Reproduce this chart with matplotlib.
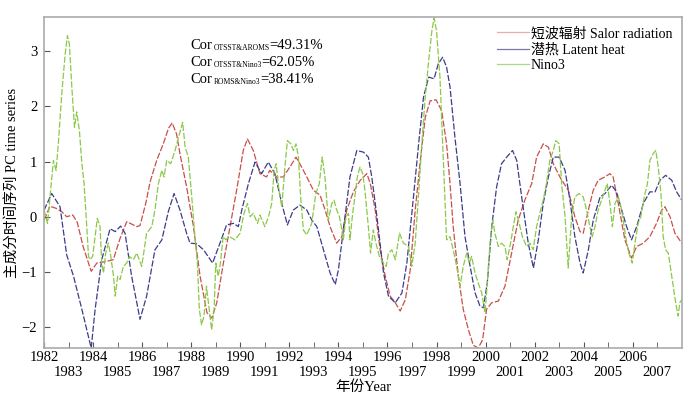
import numpy as np
import matplotlib
matplotlib.use('Agg')
from matplotlib import pyplot as plt

plt.rcParams['font.family'] = ['Liberation Serif', 'Noto Sans CJK SC']
plt.rcParams['axes.unicode_minus'] = True

# shortwave radiation PC (red)
red_t = [1982.0, 1982.24, 1982.5, 1982.72, 1982.92, 1983.17, 1983.35, 1983.59, 1983.92, 1984.15,
         1984.55, 1984.82, 1985.1, 1985.37, 1985.78, 1985.91, 1986.15, 1986.32, 1986.59, 1986.86,
         1987.07, 1987.22, 1987.4, 1987.54, 1987.81, 1988.09, 1988.36, 1988.64, 1988.84, 1989.04,
         1989.31, 1989.58, 1989.85, 1990.12, 1990.29, 1990.53, 1990.8, 1991.07, 1991.2, 1991.48,
         1991.75, 1992.02, 1992.27, 1992.5, 1992.71, 1992.98, 1993.25, 1993.46, 1993.66, 1993.93,
         1994.14, 1994.34, 1994.61, 1994.89, 1995.16, 1995.3, 1995.5, 1995.7, 1995.91, 1996.11,
         1996.32, 1996.52, 1996.73, 1996.93, 1997.13, 1997.34, 1997.54, 1997.74, 1997.98, 1998.21,
         1998.41, 1998.55, 1998.68, 1998.89, 1999.09, 1999.3, 1999.5, 1999.7, 1999.88, 2000.04,
         2000.25, 2000.52, 2000.79, 2001.06, 2001.33, 2001.6, 2001.88, 2002.08, 2002.35, 2002.56,
         2002.76, 2003.03, 2003.37, 2003.64, 2003.85, 2003.98, 2004.19, 2004.39, 2004.59, 2004.86,
         2005.07, 2005.2, 2005.41, 2005.68, 2005.95, 2006.16, 2006.43, 2006.7, 2006.97, 2007.18,
         2007.31, 2007.52, 2007.72, 2008.0]
red_v = [-0.06, 0.19, 0.15, 0.09, 0.0, 0.03, -0.1, -0.54, -0.99, -0.84,
         -0.81, -0.78, -0.39, -0.09, -0.18, -0.16, 0.25, 0.63, 1.02, 1.32,
         1.6, 1.70, 1.5, 1.14, 0.54, -0.18, -1.08, -1.74, -1.84, -1.56,
         -0.84, -0.18, 0.48, 1.2, 1.41, 1.2, 0.78, 0.72, 0.84, 0.72,
         0.72, 0.9, 1.08, 0.9, 0.72, 0.48, 0.39, 0.12, -0.18, -0.48,
         -0.36, 0.12, 0.45, 0.66, 0.78, 0.6, 0.12, -0.6, -1.08, -1.44,
         -1.56, -1.71, -1.5, -0.96, 0.12, 1.02, 1.8, 2.1, 2.12, 1.92,
         1.32, 0.6, -0.18, -1.08, -1.68, -2.05, -2.33, -2.38, -2.23, -1.68,
         -1.56, -1.53, -1.26, -0.66, -0.06, 0.3, 0.6, 1.08, 1.32, 1.26,
         0.96, 0.72, 0.48, 0.0, -0.27, -0.3, 0.12, 0.48, 0.66, 0.72,
         0.78, 0.72, 0.24, -0.42, -0.75, -0.54, -0.48, -0.36, -0.12, 0.12,
         0.18, 0.0, -0.3, -0.48]

# latent heat PC (blue)
blue_t = [1982.0, 1982.31, 1982.65, 1982.92, 1983.2, 1983.54, 1983.92, 1984.08, 1984.35, 1984.69,
          1984.9, 1985.12, 1985.3, 1985.57, 1985.91, 1986.18, 1986.52, 1986.8, 1987.07, 1987.3,
          1987.54, 1987.81, 1987.95, 1988.22, 1988.5, 1988.87, 1989.17, 1989.44, 1989.72, 1989.92,
          1990.06, 1990.33, 1990.6, 1990.87, 1991.14, 1991.41, 1991.69, 1991.92, 1992.16, 1992.43,
          1992.71, 1992.91, 1993.12, 1993.39, 1993.66, 1993.87, 1994.0, 1994.2, 1994.47, 1994.75,
          1995.02, 1995.22, 1995.36, 1995.57, 1995.84, 1996.04, 1996.32, 1996.59, 1996.79, 1997.06,
          1997.27, 1997.47, 1997.68, 1997.9, 1998.07, 1998.25, 1998.41, 1998.55, 1998.75, 1998.96,
          1999.16, 1999.37, 1999.57, 1999.77, 1999.91, 2000.07, 2000.25, 2000.45, 2000.65, 2000.86,
          2001.1, 2001.27, 2001.47, 2001.74, 2001.95, 2002.15, 2002.35, 2002.56, 2002.76, 2003.0,
          2003.24, 2003.44, 2003.64, 2003.85, 2003.98, 2004.19, 2004.39, 2004.67, 2004.87, 2005.14,
          2005.34, 2005.55, 2005.75, 2005.95, 2006.16, 2006.43, 2006.7, 2006.91, 2007.11, 2007.34,
          2007.59, 2007.79, 2008.0]
blue_v = [0.12, 0.42, 0.18, -0.69, -1.08, -1.68, -2.38, -1.68, -0.78, -0.22,
          -0.27, -0.17, -0.3, -1.08, -1.86, -1.44, -0.6, -0.42, 0.1, 0.42,
          0.12, -0.3, -0.48, -0.49, -0.6, -0.84, -0.48, -0.15, -0.12, -0.18,
          0.12, 0.6, 0.99, 0.78, 0.99, 0.78, 0.24, -0.15, 0.12, 0.21,
          0.12, -0.06, -0.18, -0.6, -1.02, -1.23, -0.96, -0.24, 0.72, 1.2,
          1.17, 1.08, 0.72, 0.0, -1.02, -1.44, -1.56, -1.38, -0.84, 0.36,
          1.32, 2.17, 2.53, 2.5, 2.77, 2.89, 2.71, 2.35, 1.44, 0.6,
          -0.36, -0.9, -1.38, -1.62, -1.65, -1.2, -0.18, 0.54, 0.96, 1.08,
          1.2, 1.02, 0.36, -0.48, -0.93, -0.42, 0.24, 0.72, 1.08, 1.08,
          0.84, 0.3, -0.36, -0.84, -1.02, -0.6, -0.06, 0.36, 0.42, 0.57,
          0.45, 0.12, -0.18, -0.42, -0.18, 0.24, 0.45, 0.45, 0.66, 0.75,
          0.66, 0.45, 0.3]

# Nino3 index (green)
green_t = [1982.0, 1982.14, 1982.24, 1982.38, 1982.49, 1982.58, 1982.72, 1982.86, 1982.95, 1983.03,
           1983.13, 1983.24, 1983.33, 1983.44, 1983.54, 1983.63, 1983.74, 1983.81, 1983.87, 1983.98,
           1984.08, 1984.17, 1984.28, 1984.35, 1984.42, 1984.51, 1984.62, 1984.72, 1984.83, 1984.9,
           1985.0, 1985.1, 1985.23, 1985.37, 1985.48, 1985.64, 1985.78, 1985.98, 1986.18, 1986.39,
           1986.52, 1986.66, 1986.8, 1986.89, 1987.0, 1987.16, 1987.34, 1987.48, 1987.65, 1987.75,
           1987.88, 1988.02, 1988.15, 1988.25, 1988.33, 1988.42, 1988.52, 1988.62, 1988.73, 1988.83,
           1988.93, 1989.0, 1989.1, 1989.19, 1989.3, 1989.41, 1989.55, 1989.78, 1989.99, 1990.15,
           1990.29, 1990.4, 1990.53, 1990.7, 1990.8, 1991.0, 1991.15, 1991.28, 1991.38, 1991.46,
           1991.56, 1991.69, 1991.83, 1991.92, 1992.06, 1992.17, 1992.27, 1992.37, 1992.46, 1992.57,
           1992.71, 1992.91, 1993.08, 1993.22, 1993.34, 1993.45, 1993.59, 1993.73, 1993.82, 1993.93,
           1994.04, 1994.14, 1994.2, 1994.31, 1994.41, 1994.47, 1994.58, 1994.67, 1994.77, 1994.88,
           1994.99, 1995.08, 1995.22, 1995.31, 1995.42, 1995.53, 1995.67, 1995.84, 1995.95, 1996.04,
           1996.18, 1996.32, 1996.49, 1996.65, 1996.86, 1996.99, 1997.13, 1997.27, 1997.4, 1997.54,
           1997.68, 1997.81, 1997.9, 1998.0, 1998.14, 1998.28, 1998.41, 1998.55, 1998.68, 1998.82,
           1998.96, 1999.09, 1999.23, 1999.34, 1999.43, 1999.57, 1999.7, 1999.84, 1999.98, 2000.07,
           2000.18, 2000.29, 2000.38, 2000.52, 2000.65, 2000.79, 2000.88, 2001.02, 2001.13, 2001.24,
           2001.37, 2001.5, 2001.67, 2001.81, 2001.94, 2002.08, 2002.21, 2002.35, 2002.48, 2002.62,
           2002.76, 2002.86, 2003.0, 2003.1, 2003.24, 2003.37, 2003.51, 2003.64, 2003.81, 2003.98,
           2004.12, 2004.25, 2004.35, 2004.46, 2004.59, 2004.73, 2004.87, 2004.96, 2005.07, 2005.17,
           2005.28, 2005.41, 2005.55, 2005.71, 2005.84, 2005.98, 2006.09, 2006.22, 2006.33, 2006.47,
           2006.6, 2006.7, 2006.83, 2006.94, 2007.04, 2007.15, 2007.24, 2007.34, 2007.45, 2007.55,
           2007.65, 2007.75, 2007.85, 2007.92, 2008.0]
green_v = [0.12, -0.12, 0.36, 1.02, 0.84, 1.32, 2.23, 2.95, 3.28, 3.13,
           2.35, 1.62, 1.9, 1.56, 0.96, 0.6, -0.18, -0.72, -0.78, -0.72,
           -0.36, -0.03, -0.18, -0.84, -1.02, -0.66, -0.48, -0.72, -1.08, -1.44,
           -1.08, -1.14, -0.9, -0.84, -0.72, -0.78, -0.66, -0.9, -0.3, -0.18,
           0.12, 0.6, 0.84, 0.72, 1.02, 0.96, 1.2, 1.44, 1.71, 1.26,
           1.08, 0.36, -0.36, -0.84, -1.68, -1.96, -1.8, -1.26, -1.68, -2.05,
           -1.68, -0.84, -1.08, -0.84, -0.36, -0.42, -0.36, -0.42, -0.3, 0.06,
           0.24, 0.0, 0.06, -0.12, 0.03, -0.18, 0.0, 0.24, 0.84, 0.96,
           0.54, 0.18, 0.96, 1.38, 1.32, 1.2, 1.32, 1.08, 0.36, -0.24,
           -0.33, -0.12, 0.42, 0.6, 1.08, 0.72, -0.06, 0.24, 0.3, 0.12,
           0.0, -0.24, -0.42, 0.0, 0.06, -0.42, 0.06, 0.36, 0.72, 0.9,
           0.78, 0.48, -0.18, -0.66, -0.24, -0.48, -0.72, -0.84, -0.9, -0.66,
           -0.6, -0.78, -0.3, -0.48, -0.54, -0.9, -0.48, 0.42, 1.32, 2.17,
           2.83, 3.37, 3.6, 3.37, 2.53, 1.02, -0.42, -0.36, -0.6, -0.9,
           -1.26, -0.9, -0.66, -0.84, -0.72, -1.02, -1.2, -1.38, -1.74, -1.2,
           -0.48, -0.06, -0.3, -0.54, -0.48, -0.54, -0.78, -0.48, -0.18, 0.09,
           -0.12, -0.36, -0.54, -0.48, -0.6, -0.18, 0.06, 0.3, 0.6, 1.02,
           1.2, 1.38, 1.32, 0.6, 0.0, -0.93, 0.0, 0.36, 0.42, 0.36,
           0.12, -0.18, -0.36, -0.18, 0.12, 0.3, 0.48, 0.6, 0.24, -0.18,
           0.24, 0.36, 0.12, -0.36, -0.66, -0.84, -0.48, -0.12, 0.0, 0.36,
           0.6, 1.02, 1.14, 1.2, 0.9, 0.42, -0.36, -0.6, -0.66, -0.96,
           -1.26, -1.56, -1.8, -1.56, -1.5]

even_years = list(range(1982, 2008, 2))
odd_years = list(range(1983, 2008, 2))
legend_labels = ['短波辐射 Salor radiation', '潜热 Latent heat', 'Nino3']
cor_subs = ['OTSST&AROMS', 'OTSST&Nino3', 'ROMS&Nino3']
cor_vals = ['=49.31%', '=62.05%', '=38.41%']

fig = plt.figure(figsize=(7, 3.95), dpi=100)
ax = fig.add_axes([0.063, 0.119, 0.911, 0.838])

dash = (0, (5, 1.5))
ax.plot(red_t, red_v, color='#c8504a', lw=0.9, ls=dash, label=legend_labels[0])
ax.plot(blue_t, blue_v, color='#3c3c8a', lw=0.9, ls=dash, label=legend_labels[1])
ax.plot(green_t, green_v, color='#8cc84a', lw=0.9, ls=dash, label=legend_labels[2])

ax.set_xlim(1982, 2008)
ax.set_ylim(-2.38, 3.62)
# even years on the first row, odd years on a second row below
ax.set_xticks(even_years)
ax.set_xticklabels([str(y) for y in even_years], fontsize=10.5)
ax.set_xticks(odd_years, minor=True)
ax.set_xticklabels([str(y) for y in odd_years], minor=True, fontsize=10.5)
ax.set_yticks([-2, -1, 0, 1, 2, 3])
ax.tick_params(axis='both', which='both', direction='in', length=4, color='#555555',
               labelsize=10.5, pad=2)
ax.tick_params(axis='x', which='minor', pad=13)
ax.tick_params(axis='y', pad=5)
for s in ax.spines.values():
    s.set_color('#aaaaaa')
    s.set_linewidth(1.2)

ax.set_xlabel('年份Year', fontsize=10.5)
ax.xaxis.set_label_coords(0.5, -0.099)
ax.set_ylabel('主成分时间序列 PC time series', fontsize=10.5, labelpad=2)

leg = ax.legend(loc='upper right', bbox_to_anchor=(1.0, 1.0), frameon=False, fontsize=10,
                handlelength=2.3, handletextpad=0.1, labelspacing=0.2, borderaxespad=0.3)
for line, c in zip(leg.get_lines(), ['#f0a8a8', '#7878a8', '#a8d888']):
    line.set_color(c)
    line.set_linestyle('-')

# correlation notes: "Cor" + small subscript + value
for i in range(3):
    t1 = ax.text(0.23, 0.913 - i * 0.051, 'Cor', transform=ax.transAxes, fontsize=10.5,
                 va='center')
    t2 = ax.annotate(cor_subs[i], xy=(1, 0), xycoords=t1, fontsize=5.5, va='bottom',
                     xytext=(0.5, 0), textcoords='offset points')
    ax.annotate(cor_vals[i], xy=(1, 0), xycoords=(t2, t1), fontsize=10.5, va='bottom')

fig.savefig('out.png', dpi=100)
